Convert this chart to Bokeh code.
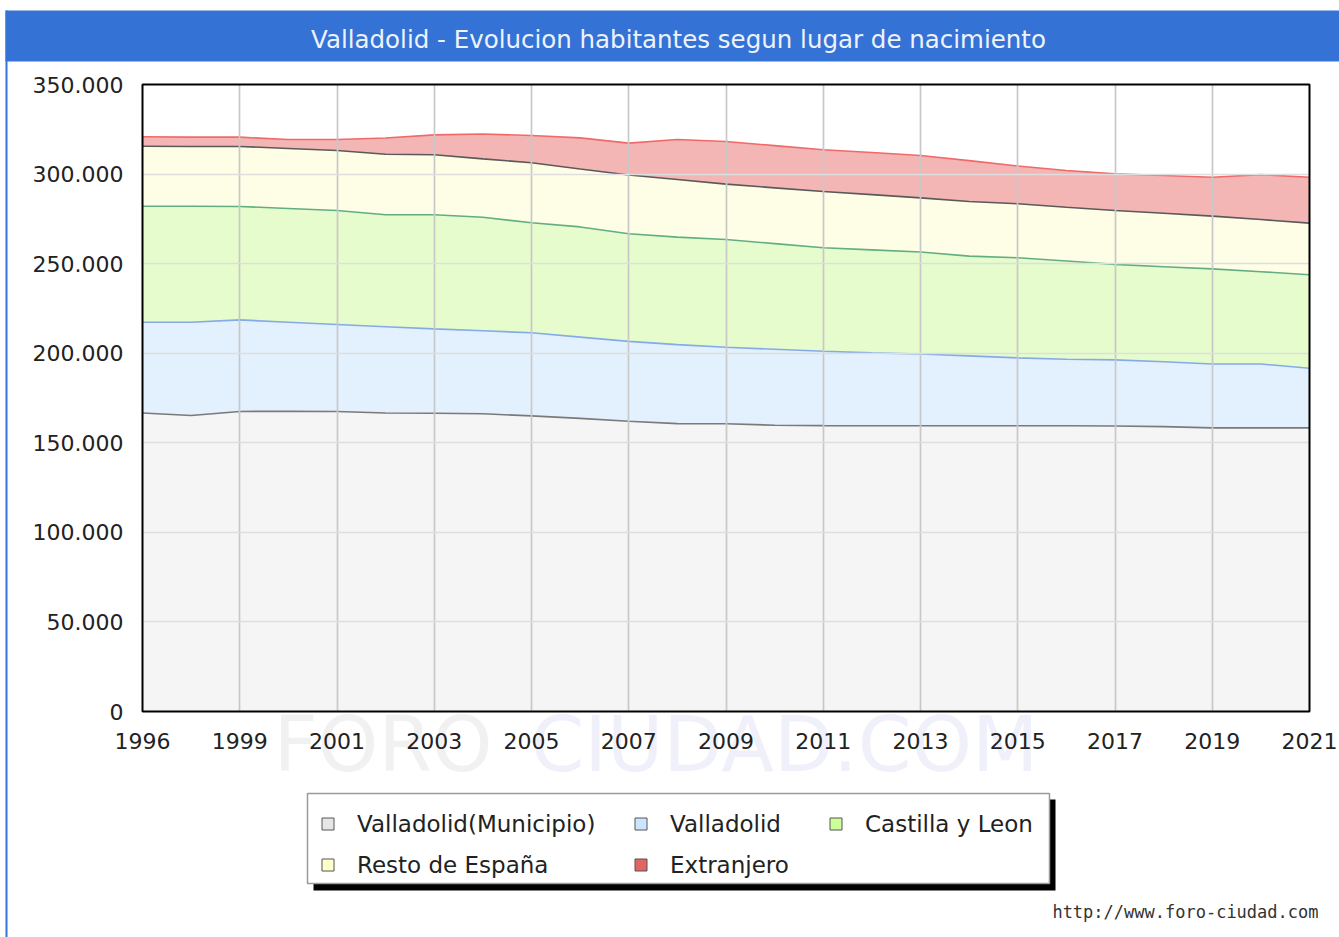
from bokeh.plotting import figure
from bokeh.models import (ColumnDataSource, FixedTicker, Legend, LegendItem, Label,
                          BoxAnnotation, Range1d, Grid)
from bokeh.embed import file_html
from bokeh.resources import INLINE

# ---------------- data ----------------
years = ["1996", "1998", "1999", "2000", "2001", "2002", "2003", "2004", "2005", "2006",
         "2007", "2008", "2009", "2010", "2011", "2012", "2013", "2014", "2015", "2016",
         "2017", "2018", "2019", "2020", "2021"]
municipio = [166600, 165200, 167500, 167600, 167500, 166600, 166500, 166200, 165000, 163600,
             162000, 160700, 160600, 159800, 159600, 159500, 159500, 159500, 159500, 159500,
             159400, 159000, 158300, 158300, 158300]
valladolid = [50700, 52100, 51100, 49700, 48500, 48200, 47100, 46300, 46400, 45400,
              44600, 44100, 42700, 42400, 41500, 40700, 40100, 39000, 37900, 37100,
              36900, 36200, 35700, 35700, 33300]
castilla = [64700, 64700, 63300, 63500, 63700, 62500, 63700, 63400, 61400, 61500,
            60100, 60000, 60200, 59000, 57800, 57500, 56900, 55700, 55900, 54900,
            53300, 53100, 53100, 51500, 52200]
resto = [33500, 33400, 33500, 33500, 33500, 33800, 33500, 32600, 33500, 32300,
         32800, 32200, 30900, 31100, 31400, 30800, 30200, 30500, 30100, 30000,
         30100, 29800, 29400, 29100, 28800]
extranjero = [5300, 5200, 5200, 5000, 6100, 9000, 11100, 13900, 15200, 17400,
              17800, 22300, 23800, 23600, 23300, 23500, 23700, 22800, 21100, 20500,
              20400, 21100, 21700, 25100, 25600]
series_names = ["Valladolid(Municipio)", "Valladolid", "Castilla y Leon",
                "Resto de España", "Extranjero"]
y_ticks = [0, 50000, 100000, 150000, 200000, 250000, 300000, 350000]
y_tick_labels = ["0", "50.000", "100.000", "150.000", "200.000", "250.000", "300.000", "350.000"]
x_tick_labels = ["1996", "1999", "2001", "2003", "2005", "2007", "2009", "2011",
                 "2013", "2015", "2017", "2019", "2021"]
title_text = "Valladolid - Evolucion habitantes segun lugar de nacimiento"
url_text = "http://www.foro-ciudad.com"

# ---------------- layout / styles ----------------
W, H = 1339, 937
FL, FR, FT, FB = 142, 1309, 84, 711          # plot box in canvas pixels
FONT = "DejaVu Sans"
fill_colors = ["#f5f5f5", "#e3f0fd", "#e6fccc", "#fefee6", "#f4b5b5"]
line_colors = ["#7a7a7a", "#85aaea", "#62ae82", "#5a5a5a", "#f06a6a"]
legend_colors = ["#e6e6e6", "#cce5ff", "#ccff99", "#ffffcc", "#e06666"]
keys = ["mun", "val", "cyl", "res", "ext"]

n = len(years)
xs = list(range(n))
y_max = y_ticks[-1]
xu = (n - 1) / (FR - FL)       # data units per pixel
yu = y_max / (FB - FT)
x_range = Range1d(-FL * xu, (n - 1) + (W - FR) * xu)
y_range = Range1d(-(H - FB) * yu, y_max + FT * yu)

src = ColumnDataSource(dict(x=xs, mun=municipio, val=valladolid, cyl=castilla,
                            res=resto, ext=extranjero))

p = figure(width=W, height=H, x_range=x_range, y_range=y_range,
           min_border=0, min_border_left=0, min_border_right=0,
           min_border_top=0, min_border_bottom=0,
           output_backend="svg", toolbar_location=None, tools="")
p.background_fill_color = "white"
p.border_fill_color = "white"
p.outline_line_color = None

p.varea_stack(keys, x="x", color=fill_colors, source=src)
p.vline_stack(keys, x="x", line_color=line_colors, line_width=1.6, source=src)

# axes (fixed inside the canvas-sized frame)
x_tick_pos = [years.index(t) for t in x_tick_labels]
p.xaxis.fixed_location = 0
p.yaxis.fixed_location = 0
p.xaxis.ticker = FixedTicker(ticks=x_tick_pos)
p.xaxis.major_label_overrides = {pos: lab for pos, lab in zip(x_tick_pos, x_tick_labels)}
p.yaxis.ticker = FixedTicker(ticks=y_ticks)
p.yaxis.major_label_overrides = {t: lab for t, lab in zip(y_ticks, y_tick_labels)}
for ax in (p.xaxis, p.yaxis):
    ax.axis_line_color = None
    ax.major_tick_line_color = None
    ax.minor_tick_line_color = None
    ax.major_tick_out = 0
    ax.major_tick_in = 0
    ax.major_label_text_font = FONT
    ax.major_label_text_font_size = "22px"
    ax.major_label_text_color = "#222222"
p.yaxis.major_label_standoff = 19
p.xaxis.major_label_standoff = 21

# grid, limited to the plot box
has_cross = "cross_bounds" in Grid.properties()
p.xgrid.ticker = FixedTicker(ticks=x_tick_pos[1:-1])
p.ygrid.ticker = FixedTicker(ticks=y_ticks[1:-1])
p.xgrid.grid_line_color = "#c8c8c8"
p.xgrid.grid_line_width = 1.7
p.ygrid.grid_line_color = "#dedede"
p.ygrid.grid_line_width = 1.4
if has_cross:
    p.xgrid.cross_bounds = (0, y_max)
    p.ygrid.cross_bounds = (0, n - 1)
    p.xgrid.level = "overlay"
    p.ygrid.level = "overlay"
else:
    p.xgrid.visible = False
    p.ygrid.visible = False
    gx = x_tick_pos[1:-1]
    p.segment(x0=gx, x1=gx, y0=[0] * len(gx), y1=[y_max] * len(gx),
              line_color="#c8c8c8", line_width=1.7, level="overlay")
    gy = y_ticks[1:-1]
    p.segment(x0=[0] * len(gy), x1=[n - 1] * len(gy), y0=gy, y1=gy,
              line_color="#dedede", line_width=1.4, level="overlay")

# plot box outline
p.add_layout(BoxAnnotation(left=0, right=n - 1, bottom=0, top=y_max,
                           fill_alpha=0, line_color="black", line_alpha=1, line_width=2,
                           level="overlay"))


def sbox(l, r, t, b, **kw):
    """box in canvas pixels (top-left origin)"""
    return BoxAnnotation(left=l, right=r, top=H - t, bottom=H - b,
                         left_units="screen", right_units="screen",
                         top_units="screen", bottom_units="screen", **kw)


# header bar and page border
p.add_layout(sbox(5, W, 10, 61, fill_color="#3572d6", fill_alpha=1, line_color=None))
p.add_layout(sbox(5, 7, 10, H, fill_color="#3572d6", fill_alpha=1, line_color=None))
p.add_layout(Label(x=678, y=H - 38.5, x_units="screen", y_units="screen", text=title_text,
                   text_align="center", text_baseline="alphabetic", text_font=FONT,
                   text_font_size="24.5px", text_color="#eef2fb"))

# watermark
p.add_layout(Label(x=273, y=H - 744, x_units="screen", y_units="screen", text="FORO",
                   text_font=FONT, text_font_size="77px", text_color="#f1f1f1",
                   text_baseline="alphabetic", level="underlay"))
p.add_layout(Label(x=530, y=H - 744, x_units="screen", y_units="screen", text="CIUDAD.COM",
                   text_font=FONT, text_font_size="77px", text_color="#f0f0fb",
                   text_baseline="alphabetic", level="underlay"))

# legend box with shadow
p.add_layout(sbox(313, 1055, 799, 890, fill_color="black", fill_alpha=1, line_color=None))
p.add_layout(sbox(307, 1049, 793, 883, fill_color="white", fill_alpha=1,
                  line_color="#9a9a9a", line_alpha=1, line_width=1.5))

# legend swatches: zero-size quads at the plot origin (only their legend glyph is seen)
legend_pos = [(320, 837), (633, 837), (828, 837), (320, 878), (633, 878)]
for name, col, (lx, lb) in zip(series_names, legend_colors, legend_pos):
    r = p.quad(left=xs[:1], right=xs[:1], top=y_ticks[:1], bottom=y_ticks[:1],
               fill_color=col, line_color="#555555", line_width=1)
    lg = Legend(items=[LegendItem(label=name, renderers=[r])], location=(lx, H - lb),
                padding=0, margin=0, spacing=0, glyph_width=15, glyph_height=15,
                label_height=27, label_standoff=22, label_text_font=FONT,
                label_text_font_size="23px", label_text_color="#222222",
                background_fill_alpha=0, border_line_color=None)
    p.add_layout(lg, "center")

p.add_layout(Label(x=1318, y=H - 911, x_units="screen", y_units="screen", text=url_text,
                   text_align="right", text_baseline="alphabetic", text_font="DejaVu Sans Mono",
                   text_font_size="17px", text_color="#333333"))

open("out.html", "w").write(file_html(p, INLINE))
